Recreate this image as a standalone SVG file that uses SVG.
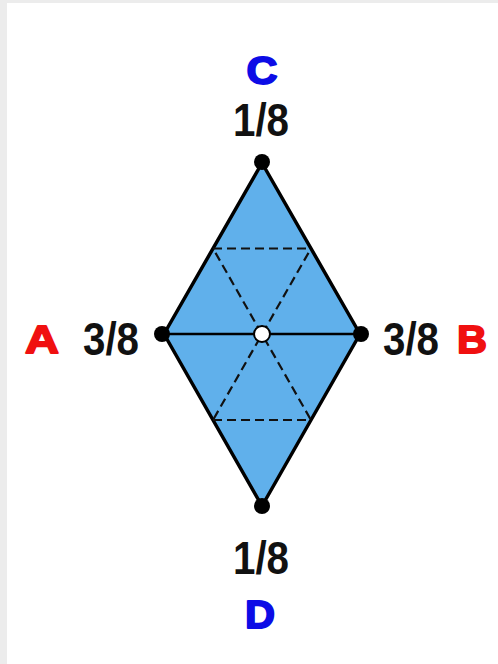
<svg xmlns="http://www.w3.org/2000/svg" width="498" height="664" viewBox="0 0 498 664">
  <style>
    .num { font-family: "Liberation Sans Narrow", "Liberation Sans", Arial, sans-serif; font-weight: bold; font-size: 46px; fill: #111; text-anchor: middle; }
    .lbl { font-family: "Liberation Sans", Arial, sans-serif; font-weight: bold; font-size: 39px; text-anchor: middle; stroke-width: 1.8; stroke-linejoin: round; }
    .red { fill: #f01010; stroke: #f01010; }
    .blue { fill: #0c0ce6; stroke: #0c0ce6; }
    .dash { stroke: #111; stroke-width: 2.2; stroke-dasharray: 9 5; fill: none; }
    .dot { fill: #000; }
  </style>
  <rect x="0" y="0" width="498" height="664" fill="#ececec"/>
  <rect x="7" y="3" width="491" height="661" fill="#ffffff"/>

  <g id="shape">
    <polygon points="262,163 360,334 262,506 164,334" fill="#60b0eb" stroke="#000" stroke-width="3.5" stroke-linejoin="round"/>
  </g>

  <g id="connectors">
    <line x1="164" y1="334" x2="360" y2="334" stroke="#000" stroke-width="2.5"/>
    <line class="dash" x1="213" y1="248.5" x2="311" y2="248.5"/>
    <line class="dash" x1="213" y1="420" x2="311" y2="420"/>
    <line class="dash" x1="213" y1="248.5" x2="311" y2="420" stroke-dashoffset="-5"/>
    <line class="dash" x1="311" y1="248.5" x2="213" y2="420" stroke-dashoffset="-5"/>
  </g>

  <g id="node-C">
    <circle class="dot" cx="262" cy="162" r="8"/>
    <text class="num" x="261" y="136" textLength="56" lengthAdjust="spacingAndGlyphs">1/8</text>
    <text class="lbl blue" x="262" y="84" textLength="31" lengthAdjust="spacingAndGlyphs">C</text>
  </g>

  <g id="node-A">
    <circle class="dot" cx="162" cy="334" r="8"/>
    <text class="num" x="111" y="355" textLength="56" lengthAdjust="spacingAndGlyphs">3/8</text>
    <text class="lbl red" x="42" y="353" textLength="34" lengthAdjust="spacingAndGlyphs">A</text>
  </g>

  <g id="node-B">
    <circle class="dot" cx="361" cy="334" r="8"/>
    <text class="num" x="411" y="355" textLength="56" lengthAdjust="spacingAndGlyphs">3/8</text>
    <text class="lbl red" x="472" y="353" textLength="30" lengthAdjust="spacingAndGlyphs">B</text>
  </g>

  <g id="node-D">
    <circle class="dot" cx="262" cy="506" r="8"/>
    <text class="num" x="261" y="574" textLength="56" lengthAdjust="spacingAndGlyphs">1/8</text>
    <text class="lbl blue" x="260" y="628" textLength="30" lengthAdjust="spacingAndGlyphs">D</text>
  </g>

  <g id="node-center">
    <circle cx="262" cy="334" r="8" fill="#ffffff" stroke="#000" stroke-width="2"/>
  </g>
</svg>
